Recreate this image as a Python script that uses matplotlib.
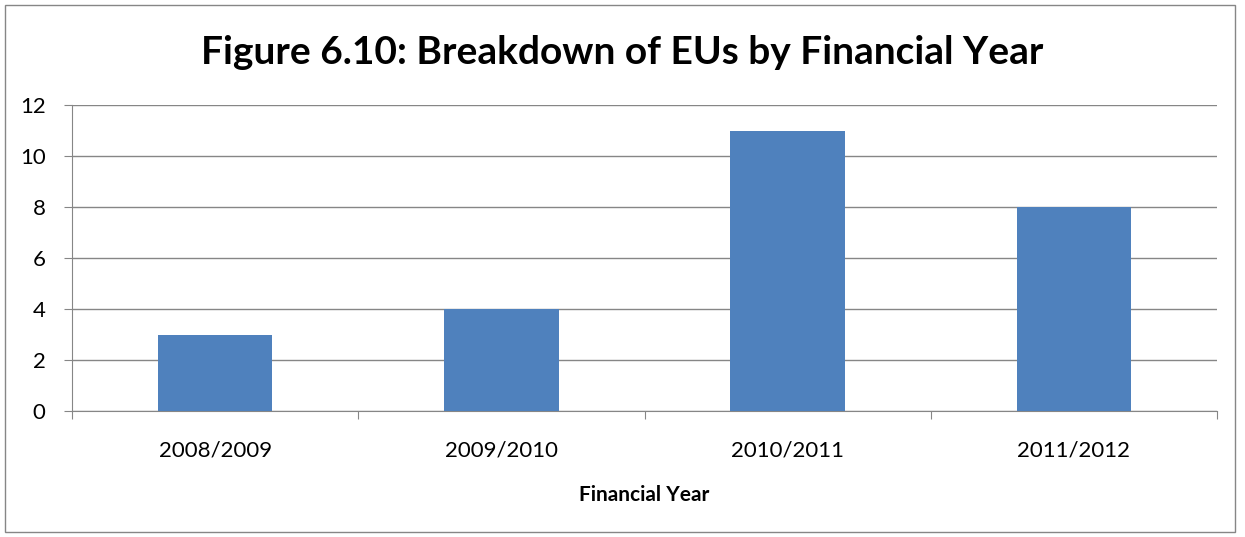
import matplotlib
matplotlib.use("Agg")
import matplotlib.pyplot as plt
from matplotlib.patches import Rectangle

years = ["2008/2009", "2009/2010", "2010/2011", "2011/2012"]
eu_counts = [3, 4, 11, 8]
y_ticks = [0, 2, 4, 6, 8, 10, 12]

plt.rcParams["font.family"] = ["Lato", "DejaVu Sans"]

W, H = 1245, 537
fig = plt.figure(figsize=(W / 100, H / 100), dpi=100)

# outer chart border
fig.patches.append(Rectangle((5 / W, 5 / H), 1230 / W, 527 / H, transform=fig.transFigure,
                             fill=False, edgecolor="#868686", linewidth=1.0))

ax = fig.add_axes([72 / W, 1 - 411 / H, (1217 - 72) / W, (411 - 105) / H])
x = list(range(len(years)))
ax.bar(x, eu_counts, width=0.4, color="#4F81BD", zorder=3)

ax.set_xlim(-0.5, len(years) - 0.5)
ax.set_ylim(0, 12)
ax.set_yticks(y_ticks)
ax.set_yticklabels([str(v) for v in y_ticks], fontsize=16)
ax.yaxis.grid(True, color="#868686", linewidth=1.0, zorder=0)

ax.set_xticks([i - 0.5 for i in range(len(years) + 1)])
ax.set_xticklabels([])
ax.set_xticks(x, minor=True)
ax.set_xticklabels(years, minor=True, fontsize=16)
ax.tick_params(axis="x", which="major", length=6, color="#868686", direction="out")
ax.tick_params(axis="x", which="minor", length=0, pad=21)
ax.tick_params(axis="y", length=6, color="#868686", direction="out", pad=13)

for s in ["top", "right"]:
    ax.spines[s].set_visible(False)
for s in ["left", "bottom"]:
    ax.spines[s].set_color("#868686")

ax.set_xlabel("Financial Year", fontsize=15, fontweight="bold", labelpad=18)
fig.text(0.5, 1 - 52 / H, "Figure 6.10: Breakdown of EUs by Financial Year",
         ha="center", va="center", fontsize=28, fontweight="bold")

fig.savefig("out.png", dpi=100, facecolor="white")
